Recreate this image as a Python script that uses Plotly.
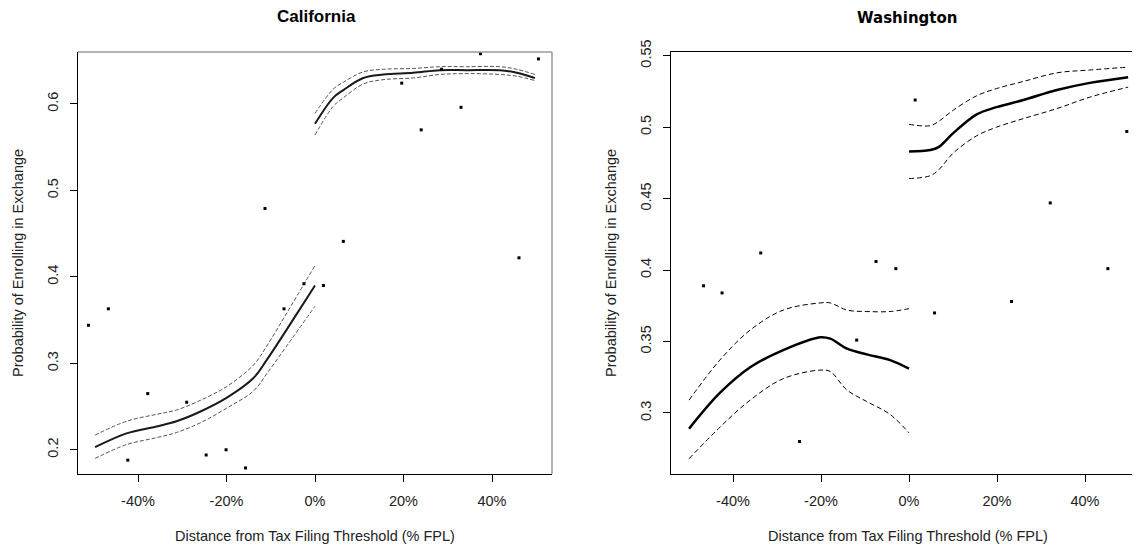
import plotly.graph_objects as go

# ---------------- California ----------------
ca_pts_x = [-51.2, -46.7, -42.3, -37.8, -29.0, -24.6, -20.1, -15.7, -11.3, -7.0, -2.5, 1.9,
            6.4, 19.6, 24.0, 28.6, 33.0, 37.4, 46.1, 50.5]
ca_pts_y = [0.344, 0.363, 0.188, 0.265, 0.255, 0.194, 0.200, 0.179, 0.479, 0.363, 0.392, 0.390,
            0.441, 0.624, 0.570, 0.640, 0.596, 0.658, 0.422, 0.652]

ca_left_x = [-49.7, -42.6, -35.8, -31.3, -26.0, -20.0, -13.9, -10.9, -6.4, 0.0]
ca_left_fit = [0.203, 0.219, 0.227, 0.233, 0.244, 0.260, 0.283, 0.304, 0.339, 0.390]
ca_left_up = [0.217, 0.233, 0.241, 0.246, 0.257, 0.273, 0.298, 0.320, 0.358, 0.413]
ca_left_lo = [0.190, 0.206, 0.214, 0.220, 0.231, 0.248, 0.268, 0.288, 0.320, 0.366]

ca_right_x = [0.0, 4.1, 6.4, 10.9, 15.4, 22.2, 28.2, 34.3, 41.8, 45.6, 49.7]
ca_right_fit = [0.577, 0.607, 0.616, 0.630, 0.634, 0.636, 0.639, 0.639, 0.639, 0.636, 0.630]
ca_right_up = [0.589, 0.617, 0.625, 0.637, 0.640, 0.641, 0.643, 0.643, 0.643, 0.640, 0.634]
ca_right_lo = [0.564, 0.597, 0.607, 0.623, 0.628, 0.630, 0.634, 0.635, 0.634, 0.632, 0.627]

# ---------------- Washington ----------------
wa_pts_x = [-46.7, -42.5, -33.7, -24.9, -11.9, -7.5, -3.0, 1.4, 5.8, 23.3, 32.1, 45.2, 49.5]
wa_pts_y = [0.389, 0.384, 0.412, 0.280, 0.351, 0.406, 0.401, 0.519, 0.370, 0.378, 0.447, 0.401, 0.497]

wa_left_x = [-50.0, -43.0, -36.1, -28.6, -20.2, -17.9, -14.1, -9.6, -4.3, 0.0]
wa_left_fit = [0.289, 0.314, 0.332, 0.344, 0.353, 0.352, 0.345, 0.341, 0.337, 0.331]
wa_left_up = [0.309, 0.337, 0.358, 0.372, 0.377, 0.377, 0.372, 0.371, 0.371, 0.373]
wa_left_lo = [0.268, 0.290, 0.309, 0.324, 0.330, 0.329, 0.316, 0.308, 0.299, 0.286]

wa_right_x = [0.0, 4.8, 6.7, 10.1, 15.4, 19.9, 26.0, 33.6, 41.1, 49.8]
wa_right_fit = [0.483, 0.484, 0.486, 0.496, 0.509, 0.514, 0.519, 0.526, 0.531, 0.535]
wa_right_up = [0.502, 0.501, 0.504, 0.512, 0.522, 0.527, 0.532, 0.538, 0.540, 0.542]
wa_right_lo = [0.464, 0.466, 0.470, 0.482, 0.494, 0.500, 0.506, 0.513, 0.521, 0.528]

x_tickvals = [-40, -20, 0, 20, 40]
x_ticktext = ["-40%", "-20%", "0%", "20%", "40%"]
ca_yticks = [0.2, 0.3, 0.4, 0.5, 0.6]
ca_yticktext = ["0.2", "0.3", "0.4", "0.5", "0.6"]
wa_yticks = [0.3, 0.35, 0.4, 0.45, 0.5, 0.55]
wa_yticktext = ["0.3", "0.35", "0.4", "0.45", "0.5", "0.55"]

titles = ["California", "Washington"]
x_title = "Distance from Tax Filing Threshold (% FPL)"
y_title = "Probability of Enrolling in Exchange"

# the page body has an 8px margin; figure occupies browser pixels 8..1140, 8..548
OFF = 8
W, H = 1140 - OFF, 548 - OFF
FONT = "Liberation Sans, Arial, sans-serif"


def px(bx):
    return (bx - OFF) / W


def py(by):
    return 1 - (by - OFF) / H


fig = go.Figure()


def add_lines(xs, fit, up, lo, xa, ya, solid_col, dash_col, solid_w, dash_w, dash):
    for yy in (up, lo):
        fig.add_trace(go.Scatter(x=xs, y=yy, mode="lines", xaxis=xa, yaxis=ya,
                                 line=dict(color=dash_col, width=dash_w, dash=dash, shape="spline"),
                                 showlegend=False, hoverinfo="skip"))
    fig.add_trace(go.Scatter(x=xs, y=fit, mode="lines", xaxis=xa, yaxis=ya,
                             line=dict(color=solid_col, width=solid_w, shape="spline"),
                             showlegend=False, hoverinfo="skip"))


# California
add_lines(ca_left_x, ca_left_fit, ca_left_up, ca_left_lo, "x", "y", "#1a1a1a", "#555555", 2, 1, "4px,2px")
add_lines(ca_right_x, ca_right_fit, ca_right_up, ca_right_lo, "x", "y", "#1a1a1a", "#555555", 2, 1, "4px,2px")
fig.add_trace(go.Scatter(x=ca_pts_x, y=ca_pts_y, mode="markers", xaxis="x", yaxis="y",
                         marker=dict(color="black", size=3, symbol="square"), showlegend=False))

# Washington
add_lines(wa_left_x, wa_left_fit, wa_left_up, wa_left_lo, "x2", "y2", "black", "black", 2.5, 1, "5px,3px")
add_lines(wa_right_x, wa_right_fit, wa_right_up, wa_right_lo, "x2", "y2", "black", "black", 2.5, 1, "5px,3px")
fig.add_trace(go.Scatter(x=wa_pts_x, y=wa_pts_y, mode="markers", xaxis="x2", yaxis="y2",
                         marker=dict(color="black", size=3, symbol="square"), showlegend=False))

ydom = [py(474), py(52)]
x1dom = [px(78), px(552)]
x2dom = [px(671), 1.0]

axis_common = dict(showgrid=False, zeroline=False, showline=True, linecolor="black", linewidth=1.3,
                   ticks="outside", ticklen=7, tickcolor="black", tickwidth=1,
                   tickfont=dict(family=FONT, size=14.5, color="#222"), automargin=False)

ann_font = dict(family=FONT, size=14.5, color="#222")

fig.update_layout(
    width=W, height=H,
    margin=dict(l=0, r=0, t=0, b=0),
    paper_bgcolor="white", plot_bgcolor="white",
    xaxis=dict(domain=x1dom, anchor="y", range=[-53.56, 53.56], tickvals=x_tickvals,
               ticktext=x_ticktext, ticklabelstandoff=6, **axis_common),
    yaxis=dict(domain=ydom, anchor="x", range=[0.172, 0.660], tickvals=ca_yticks,
               ticktext=ca_yticktext, tickangle=-90, ticklabelstandoff=6, **axis_common),
    xaxis2=dict(domain=x2dom, anchor="y2", range=[-54.1, 52.5], tickvals=x_tickvals,
                ticktext=x_ticktext, mirror=True, ticklabelstandoff=6, **axis_common),
    yaxis2=dict(domain=ydom, anchor="x2", range=[0.2573, 0.5526], tickvals=wa_yticks,
                ticktext=wa_yticktext, tickangle=-90, ticklabelstandoff=6, **axis_common),
    shapes=[
        dict(type="line", xref="x domain", yref="y domain", x0=0, x1=1, y0=1, y1=1,
             line=dict(color="#999999", width=1.5)),
        dict(type="line", xref="x domain", yref="y domain", x0=1, x1=1, y0=0, y1=1,
             line=dict(color="#999999", width=1.5)),
    ],
    annotations=[
        dict(text="<b>" + titles[0] + "</b>", x=px(316), y=py(16), xref="paper", yref="paper",
             xanchor="center", yanchor="middle", showarrow=False,
             font=dict(family=FONT, size=17, color="black")),
        dict(text="<b>" + titles[1] + "</b>", x=px(907), y=py(18), xref="paper", yref="paper",
             xanchor="center", yanchor="middle", showarrow=False,
             font=dict(family="DejaVu Sans, sans-serif", size=15, color="black")),
        dict(text=x_title, x=px(315), y=py(536), xref="paper", yref="paper",
             xanchor="center", yanchor="middle", showarrow=False, font=ann_font),
        dict(text=x_title, x=px(908), y=py(536), xref="paper", yref="paper",
             xanchor="center", yanchor="middle", showarrow=False, font=ann_font),
        dict(text=y_title, x=px(18), y=py(263), xref="paper", yref="paper", textangle=-90,
             xanchor="center", yanchor="middle", showarrow=False, font=ann_font),
        dict(text=y_title, x=px(611), y=py(263), xref="paper", yref="paper", textangle=-90,
             xanchor="center", yanchor="middle", showarrow=False, font=ann_font),
    ],
)

fig.write_html("out.html")
